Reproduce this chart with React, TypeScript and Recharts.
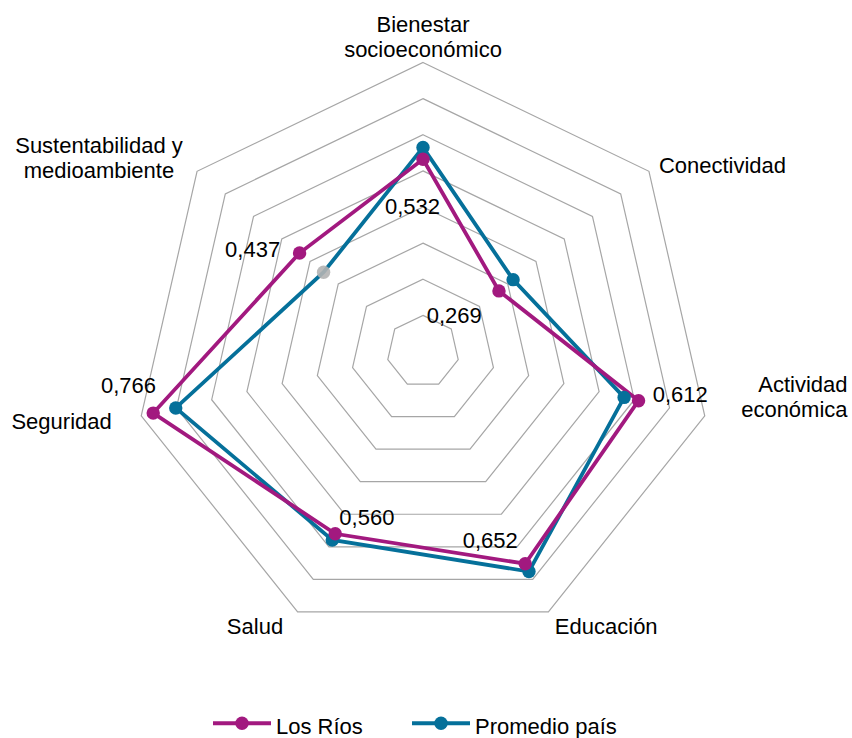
import React from 'react';
import {
  RadarChart,
  Radar,
  PolarGrid,
  PolarAngleAxis,
  PolarRadiusAxis,
  Legend,
} from 'recharts';

// Dimensions of the regional index, clockwise from the top
const dimensions = [
  'Bienestar socioeconómico',
  'Conectividad',
  'Actividad económica',
  'Educación',
  'Salud',
  'Seguridad',
  'Sustentabilidad y medioambiente',
];

// Axis captions, broken into lines
const dimensionLines = [
  ['Bienestar', 'socioeconómico'],
  ['Conectividad'],
  ['Actividad', 'económica'],
  ['Educación'],
  ['Salud'],
  ['Seguridad'],
  ['Sustentabilidad y', 'medioambiente'],
];

const seriesNames = ['Los Ríos', 'Promedio país'];
const losRios = [0.532, 0.269, 0.612, 0.652, 0.56, 0.766, 0.437];
const promedioPais = [0.565, 0.319, 0.571, 0.676, 0.579, 0.702, 0.352];

const radiusDomain: [number, number] = [0, 0.8];
const ringValues = [0.1, 0.2, 0.3, 0.4, 0.5, 0.6, 0.7, 0.8];

const chartData = dimensions.map((d, i) => ({
  dimension: d,
  losRios: losRios[i],
  promedio: promedioPais[i],
}));

const WIDTH = 852;
const HEIGHT = 738;
const CX = 423;
const CY = 351.5;
const OUTER_R = 289;

const FONT = '"Liberation Sans", Arial, Helvetica, sans-serif';
const MAGENTA = '#A2197F';
const TEAL = '#05709A';
const GRID = '#a6a6a6';
const DOT_R = 6.7;

// radius scale used for the grid rings
const toRadius = (v: number) =>
  ((v - radiusDomain[0]) / (radiusDomain[1] - radiusDomain[0])) * OUTER_R;
const ringRadii = ringValues.map(toRadius);

// Caption placement relative to each axis end point
const TICK_PLACEMENT: { anchor: 'start' | 'middle' | 'end'; dx: number; dy: number[] }[] = [
  { anchor: 'middle', dx: 0, dy: [-23, 2.5] },
  { anchor: 'start', dx: 3.7, dy: [6.8] },
  { anchor: 'end', dx: 135, dy: [-25.9, -0.3] },
  { anchor: 'start', dx: 3, dy: [15.4] },
  { anchor: 'end', dx: -11, dy: [15.4] },
  { anchor: 'end', dx: -21.7, dy: [11.4] },
  { anchor: 'middle', dx: -91.8, dy: [-13.2, 11.8] },
];

// Value label placement relative to each Los Ríos point
const VALUE_LABEL_OFFSET: [number, number][] = [
  [-38, 54.7],
  [-72.3, 32.4],
  [14.1, 1],
  [-62.5, -15.4],
  [4.1, -8.8],
  [-52.2, -19.8],
  [-74.5, 3.6],
];

const formatValue = (v: number) => v.toFixed(3).replace('.', ',');

const renderAngleTick = (props: any) => {
  const { x, y, index } = props;
  const place = TICK_PLACEMENT[index];
  const lines = dimensionLines[index];
  const tx = x + place.dx;
  return (
    <text
      x={tx}
      y={y}
      textAnchor={place.anchor}
      fontSize={22}
      fontFamily={FONT}
      fill="#000"
    >
      {lines.map((line, i) => (
        <tspan key={i} x={tx} y={y + place.dy[i]}>
          {line}
        </tspan>
      ))}
    </text>
  );
};

const renderLosRiosDot = (props: any) => {
  const { cx, cy, index } = props;
  const [dx, dy] = VALUE_LABEL_OFFSET[index];
  return (
    <g key={`lr-${index}`}>
      <circle cx={cx} cy={cy} r={DOT_R} fill={MAGENTA} stroke="none" />
      <text
        x={cx + dx}
        y={cy + dy}
        fontSize={22}
        fontFamily={FONT}
        fill="#000"
        textAnchor="start"
      >
        {formatValue(losRios[index])}
      </text>
    </g>
  );
};

const renderPromedioDot = (props: any) => {
  const { cx, cy, index } = props;
  // the environmental point is shown in grey
  const grey = index === 6;
  return (
    <circle
      key={`pp-${index}`}
      cx={cx}
      cy={cy}
      r={DOT_R}
      fill={grey ? '#b3b3b3' : TEAL}
      fillOpacity={grey ? 0.9 : 1}
      stroke="none"
    />
  );
};

const seriesColors: Record<string, string> = {
  'Los Ríos': MAGENTA,
  'Promedio país': TEAL,
};

const LEGEND_ITEM_X = [213, 412];

const renderLegend = () => (
  <svg width={WIDTH} height={38} style={{ display: 'block', overflow: 'visible' }}>
    {seriesNames.map((name, i) => {
      const x0 = LEGEND_ITEM_X[i];
      const color = seriesColors[name];
      return (
        <g key={name}>
          <line x1={x0} x2={x0 + 58} y1={23.3} y2={23.3} stroke={color} strokeWidth={4} />
          <circle cx={x0 + 29} cy={23.3} r={DOT_R} fill={color} />
          <text x={x0 + 63} y={34} fontSize={22} fontFamily={FONT} fill="#000">
            {name}
          </text>
        </g>
      );
    })}
  </svg>
);

export default function App() {
  return (
    <div style={{ width: WIDTH, height: HEIGHT, overflow: 'hidden' }}>
      <style>{'html, body { margin: 0; padding: 0; }'}</style>
      <RadarChart
        width={WIDTH}
        height={HEIGHT}
        data={chartData}
        cx={CX}
        cy={CY}
        outerRadius={OUTER_R}
        margin={{ top: 0, right: 0, bottom: 0, left: 0 }}
      >
        <PolarGrid
          gridType="polygon"
          radialLines={false}
          polarRadius={ringRadii}
          stroke={GRID}
          strokeWidth={1.2}
        />
        <PolarAngleAxis
          dataKey="dimension"
          tick={renderAngleTick}
          tickLine={false}
          axisLine={false}
        />
        <PolarRadiusAxis
          type="number"
          domain={radiusDomain}
          ticks={[0, ...ringValues]}
          tickCount={9}
          allowDecimals
          allowDataOverflow
          tick={false}
          axisLine={false}
          tickLine={false}
        />
        <Radar
          name="Promedio país"
          dataKey="promedio"
          stroke={TEAL}
          strokeWidth={3.8}
          fill="none"
          fillOpacity={0}
          dot={renderPromedioDot}
          isAnimationActive={false}
        />
        <Radar
          name="Los Ríos"
          dataKey="losRios"
          stroke={MAGENTA}
          strokeWidth={3.8}
          fill="none"
          fillOpacity={0}
          dot={renderLosRiosDot}
          isAnimationActive={false}
        />
        <Legend
          verticalAlign="bottom"
          content={renderLegend}
          wrapperStyle={{ top: 700, left: 0, width: WIDTH, height: 38 }}
        />
      </RadarChart>
    </div>
  );
}
